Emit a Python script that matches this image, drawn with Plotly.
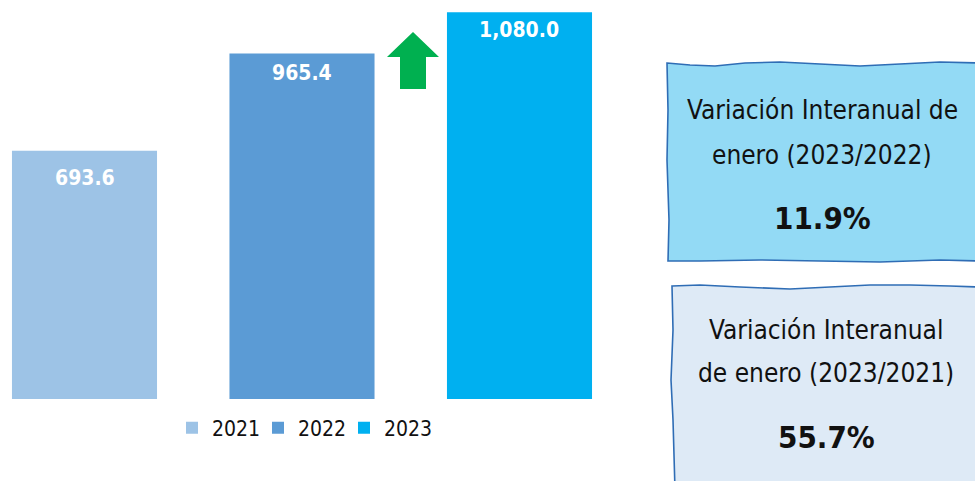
import plotly.graph_objects as go

years = ["2021", "2022", "2023"]
values = [693.6, 965.4, 1080.0]
bar_colors = ["#9DC3E6", "#5B9BD5", "#00B0F0"]
label_drop_px = [27, 20, 18]

box1_lines = ["Variación Interanual de", "enero (2023/2022)"]
box1_value = "11.9%"
box2_lines = ["Variación Interanual", "de enero (2023/2021)"]
box2_value = "55.7%"

W, H = 975, 481
FONT = "Liberation Sans Narrow, DejaVu Sans Condensed, sans-serif"


def px(x):
    return x / W


def py(y):
    return 1 - y / H


def path_from(points):
    return "M " + " L ".join(f"{px(x):.5f},{py(y):.5f}" for x, y in points) + " Z"


fig = go.Figure()
annotations = []
for i, (yr, v, c, d) in enumerate(zip(years, values, bar_colors, label_drop_px)):
    fig.add_trace(go.Bar(
        x=[yr], y=[v], name=yr, width=0.667,
        marker=dict(color=c, line=dict(width=0)),
        hoverinfo="skip",
        legendwidth=60 if i == len(years) - 1 else None,
    ))
    annotations.append(dict(x=i, y=v, xref="x", yref="y", text=f"{v:,.1f}",
                            showarrow=False, yanchor="middle", yshift=-d,
                            font=dict(family=FONT, size=21, color="white", weight="bold")))

shapes = []
box1 = [(667, 63), (690, 65), (715, 66), (745, 63), (780, 62), (820, 64), (860, 66),
        (900, 64), (940, 62), (980, 63), (980, 261), (940, 260), (880, 262), (820, 261),
        (760, 260), (700, 261), (668, 261), (669, 220), (667, 160), (668, 110)]
shapes.append(dict(type="path", xref="paper", yref="paper", path=path_from(box1),
                   fillcolor="#93DAF5", line=dict(color="#2F6DB5", width=1.6), layer="below"))
box2 = [(672, 286), (700, 285), (740, 287), (790, 289), (830, 287), (870, 285),
        (910, 285), (950, 286), (980, 287), (980, 490), (675, 490), (673, 420),
        (671, 380), (673, 330)]
shapes.append(dict(type="path", xref="paper", yref="paper", path=path_from(box2),
                   fillcolor="#DEEAF6", line=dict(color="#2F6DB5", width=1.6), layer="below"))
arrow = [(413, 32), (439, 57), (426, 57), (426, 89), (400, 89), (400, 57), (387, 57)]
shapes.append(dict(type="path", xref="paper", yref="paper", path=path_from(arrow),
                   fillcolor="#00B050", line=dict(width=0)))


def add_box_text(lines, value, cx, ys, vy):
    for t, y in zip(lines, ys):
        annotations.append(dict(text=t, x=px(cx), y=py(y), xref="paper", yref="paper",
                                showarrow=False, xanchor="center", yanchor="middle",
                                font=dict(family=FONT, size=26, color="#111111")))
    annotations.append(dict(text=value, x=px(cx), y=py(vy), xref="paper", yref="paper",
                            showarrow=False, xanchor="center", yanchor="middle",
                            font=dict(family=FONT, size=31, color="#111111", weight="bold")))


add_box_text(box1_lines, box1_value, 822, [110, 155], 218)
add_box_text(box2_lines, box2_value, 826, [330, 373], 437)

fig.update_layout(
    width=W, height=H,
    margin=dict(l=0, r=0, t=0, b=0),
    paper_bgcolor="white", plot_bgcolor="rgba(0,0,0,0)",
    barmode="overlay",
    xaxis=dict(type="category", range=[-0.3885, 4.0943], visible=False, fixedrange=True),
    yaxis=dict(range=[-229, 1114.5], visible=False, fixedrange=True),
    showlegend=True,
    legend=dict(orientation="h", x=px(172), y=py(428), xanchor="left", yanchor="middle",
                font=dict(family=FONT, size=21, color="#111111"), entrywidth=41,
                bgcolor="rgba(0,0,0,0)", itemclick=False, itemdoubleclick=False),
    shapes=shapes, annotations=annotations,
)

fig.write_html("out.html", config={"displayModeBar": False},
               post_script="document.body.style.margin='0px';")
